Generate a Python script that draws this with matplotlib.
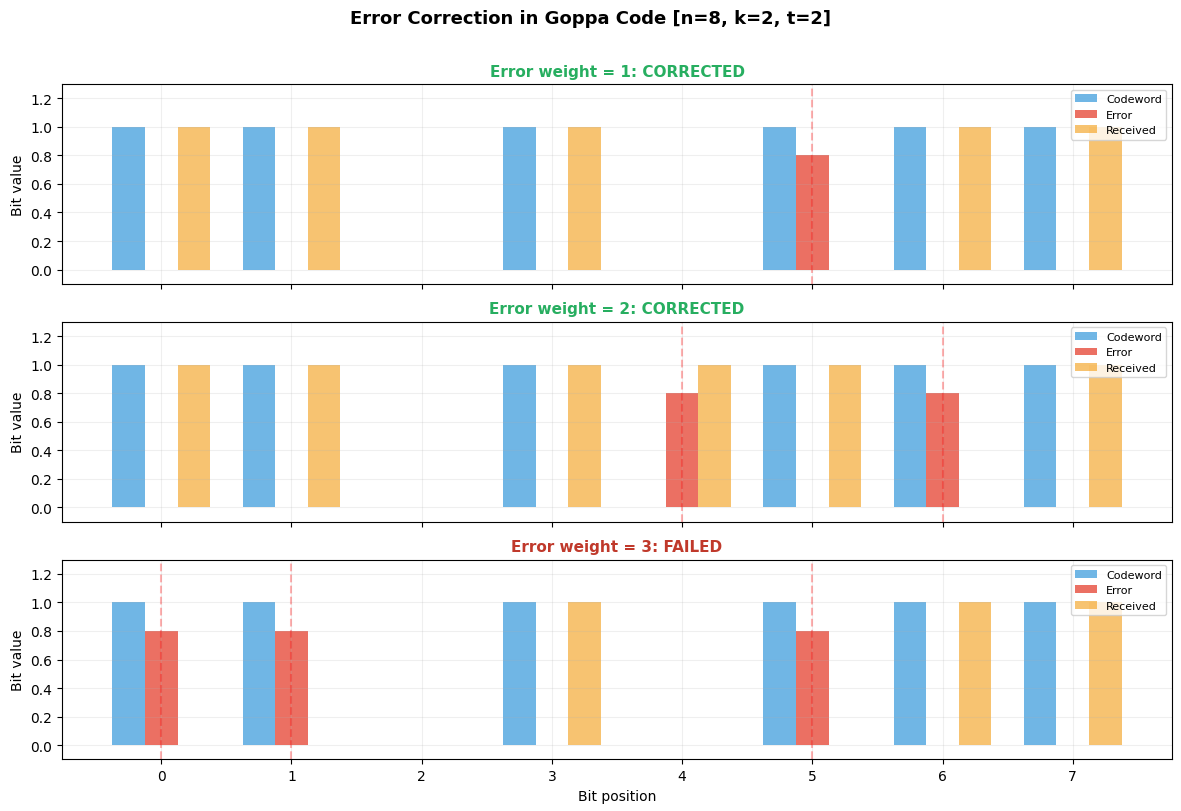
import numpy as np
import matplotlib
matplotlib.use("Agg")
import matplotlib.pyplot as plt

positions = list(range(8))
codeword = [1, 1, 0, 1, 0, 1, 1, 1]
error_weights = [1, 2, 3]
error_positions = [[5], [4, 6], [0, 1, 5]]
statuses = ["CORRECTED", "CORRECTED", "FAILED"]
error_height = 0.8

fig, axes = plt.subplots(3, 1, figsize=(11.81, 8.12), dpi=100, sharex=True)
x = np.array(positions)
w = 0.25
for ax, wt, errs, st in zip(axes, error_weights, error_positions, statuses):
    err = np.zeros(8)
    for p in errs:
        err[p] = 1
    received = (np.array(codeword) + err) % 2
    ax.bar(x - w, codeword, w, color="#3498db", alpha=0.7, label="Codeword")
    ax.bar(x, err * error_height, w, color="#e74c3c", alpha=0.8, label="Error")
    ax.bar(x + w, received, w, color="#f39c12", alpha=0.6, label="Received")
    for p in errs:
        ax.axvline(p, color="red", linestyle="--", alpha=0.3)
    ax.set_ylim(-0.1, 1.3)
    ax.set_ylabel("Bit value")
    ax.grid(True, alpha=0.2)
    color = "#27ae60" if st == "CORRECTED" else "#c0392b"
    ax.set_title(f"Error weight = {wt}: {st}", color=color, fontweight="bold", fontsize=11)
    ax.legend(loc="upper right", fontsize=8)
axes[-1].set_xlabel("Bit position")
axes[-1].set_xticks(positions)
fig.suptitle("Error Correction in Goppa Code [n=8, k=2, t=2]", fontsize=13, fontweight="bold", y=0.988)
fig.subplots_adjust(left=0.0525, right=0.9924, top=0.8953, bottom=0.0635, hspace=0.19)
fig.savefig("out.png", dpi=100)
